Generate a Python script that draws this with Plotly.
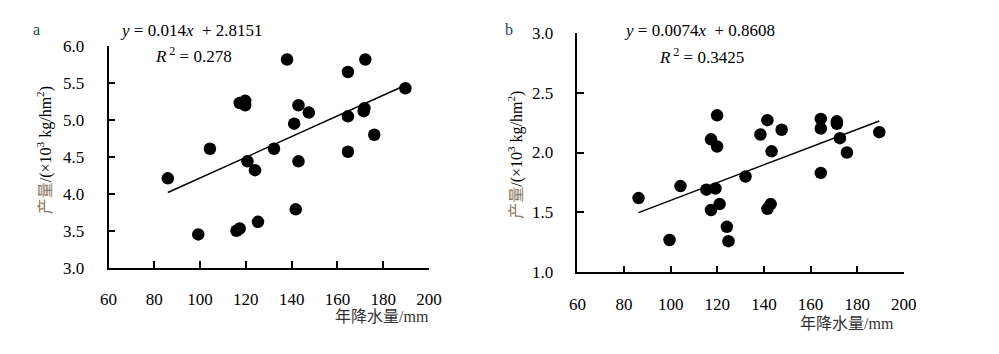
import plotly.graph_objects as go

W, H = 999, 354

# Panel a data
a_x = [85.9, 99.2, 104.3, 115.9, 117.3, 117.3, 119.2, 119.7, 119.7, 120.7, 124.0, 125.3, 132.3,
       138.0, 141.1, 141.8, 143.0, 143.0, 147.5, 164.6, 164.6, 164.6, 171.8, 171.5, 172.2, 176.1, 189.7]
a_y = [4.21, 3.45, 4.61, 3.50, 3.53, 5.23, 5.22, 5.26, 5.20, 4.44, 4.32, 3.62, 4.61,
       5.82, 4.95, 3.79, 5.20, 4.44, 5.10, 5.65, 5.05, 4.57, 5.16, 5.12, 5.82, 4.80, 5.43]
a_slope, a_icpt = 0.014, 2.8151

# Panel b data
b_x = [86.2, 99.5, 104.2, 115.3, 117.3, 117.3, 119.2, 119.9, 119.9, 121.0, 124.1, 124.8, 132.1,
       138.5, 141.5, 141.5, 142.9, 143.3, 147.6, 164.4, 164.4, 164.4, 171.3, 171.3, 172.6, 175.6, 189.5]
b_y = [1.62, 1.27, 1.72, 1.69, 2.11, 1.52, 1.70, 2.31, 2.05, 1.57, 1.38, 1.26, 1.80,
       2.15, 2.27, 1.53, 1.57, 2.01, 2.19, 2.28, 2.20, 1.83, 2.26, 2.24, 2.12, 2.00, 2.17]
b_slope, b_icpt = 0.0074, 0.8608

x_ticks = [60, 80, 100, 120, 140, 160, 180, 200]
a_yticks = [3.0, 3.5, 4.0, 4.5, 5.0, 5.5, 6.0]
b_yticks = [1.0, 1.5, 2.0, 2.5, 3.0]

SERIF = "Liberation Serif, Noto Sans CJK SC"
YTITLE = "<span style='color:#8a7966'>产量</span>/(×10<sup>3</sup> kg/hm<sup>2</sup>)"
XTITLE = "年降水量/mm"


def px(x):
    return x / W


def py(y):
    return 1 - y / H


fig = go.Figure()

for i, (xs, ys, m, c) in enumerate([(a_x, a_y, a_slope, a_icpt), (b_x, b_y, b_slope, b_icpt)]):
    xa = "x" if i == 0 else "x2"
    ya = "y" if i == 0 else "y2"
    fig.add_trace(go.Scatter(x=xs, y=ys, mode="markers", xaxis=xa, yaxis=ya,
                             marker=dict(color="black", size=12.5), showlegend=False))
    lx = [min(xs), max(xs)]
    fig.add_trace(go.Scatter(x=lx, y=[m * v + c for v in lx], mode="lines", xaxis=xa, yaxis=ya,
                             line=dict(color="black", width=1.4), showlegend=False))

common_x = dict(range=[60, 200], tickvals=x_ticks, ticks="inside", ticklen=7, tickwidth=1.5,
                tickcolor="black", showline=True, linecolor="black", linewidth=1.6,
                showgrid=False, zeroline=False, ticklabelstandoff=15,
                tickfont=dict(family=SERIF, size=17, color="black"))
common_y = dict(ticks="inside", ticklen=7, tickwidth=1.5, tickcolor="black", showline=True,
                linecolor="black", linewidth=1.6, showgrid=False, zeroline=False,
                tickformat=".1f", ticklabelstandoff=19,
                tickfont=dict(family=SERIF, size=17, color="black"))

fig.update_layout(
    width=W, height=H, margin=dict(l=0, r=0, t=0, b=0),
    paper_bgcolor="white", plot_bgcolor="white",
    font=dict(family=SERIF),
    xaxis=dict(domain=[px(102.7), px(430)], anchor="y", **common_x),
    yaxis=dict(domain=[py(273.3), py(39.3)], anchor="x", range=[3.0, 6.0], tickvals=a_yticks, **common_y),
    xaxis2=dict(domain=[px(581.7), px(915)], anchor="y2", **common_x),
    yaxis2=dict(domain=[py(278.3), py(25)], anchor="x2", range=[1.0, 3.0], tickvals=b_yticks, **common_y),
)

f = dict(family=SERIF, size=17, color="black")
ann = [
    dict(x=px(29), y=py(22), text="a", xanchor="center", yanchor="middle", font=dict(family=SERIF, size=16)),
    dict(x=px(512), y=py(22), text="b", xanchor="center", yanchor="middle", font=dict(family=SERIF, size=16)),
    dict(x=px(112), y=py(23), text=f"<i>y</i> = {a_slope}<i>x</i>  + {a_icpt}", xanchor="left", yanchor="middle", font=f),
    dict(x=px(148), y=py(49), text="<i>R</i><sup> 2</sup> = 0.278", xanchor="left", yanchor="middle", font=f),
    dict(x=px(627), y=py(23), text=f"<i>y</i> = {b_slope}<i>x</i>  + {b_icpt}", xanchor="left", yanchor="middle", font=f),
    dict(x=px(663), y=py(50), text="<i>R</i><sup> 2</sup> = 0.3425", xanchor="left", yanchor="middle", font=f),
    dict(x=px(37), y=py(149), text=YTITLE, textangle=-90, xanchor="center", yanchor="middle",
         font=dict(family=SERIF, size=16, color="black")),
    dict(x=px(519), y=py(154), text=YTITLE, textangle=-90, xanchor="center", yanchor="middle",
         font=dict(family=SERIF, size=16, color="black")),
    dict(x=px(432), y=py(325), text=XTITLE, xanchor="right", yanchor="middle",
         font=dict(family=SERIF, size=16, color="#333")),
    dict(x=px(907), y=py(332), text=XTITLE, xanchor="right", yanchor="middle",
         font=dict(family=SERIF, size=16, color="#333")),
]
for a in ann:
    a.update(xref="paper", yref="paper", showarrow=False)
fig.update_layout(annotations=ann)

fig.write_html("out.html")
